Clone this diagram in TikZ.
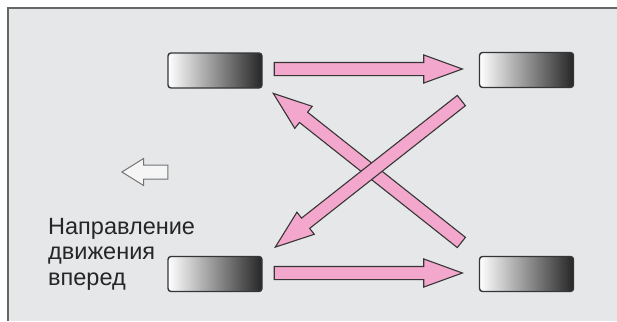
\documentclass[tikz,border=0pt]{standalone}
\usepackage{fontspec}
\setmainfont{Liberation Sans}
\usetikzlibrary{positioning,calc,shapes.arrows}

\definecolor{panelgray}{HTML}{E6E7E8}
\definecolor{arrowpink}{HTML}{F4A7CC}
\definecolor{edgegray}{HTML}{363636}

% fat outlined arrow from one coordinate to another
\newcommand{\fatarrow}[3]{%
  \path let \p1=($(#3)-(#2)$), \n1={atan2(\y1,\x1)}, \n2={veclen(\x1,\y1)} in
    node[swaparrow, minimum height=\n2, rotate=\n1, anchor=tail] (#1) at (#2) {};}

\begin{document}
\begin{tikzpicture}[
			x=1pt,y=-1pt,
			wheel/.style={
				draw=edgegray,
				line width=1.4pt,
				rounded corners=3pt,
				minimum width=94pt,
				minimum height=35pt,
				inner sep=0pt,
				left color=white,
				right color=black!85
			},
			swaparrow/.style={
				single arrow,
				draw=edgegray,
				fill=arrowpink,
				line width=1.1pt,
				inner xsep=0pt,
				inner ysep=6pt,
				single arrow head extend=7.5pt,
				single arrow tip angle=40
			},
			hollowarrow/.style={
				single arrow,
				draw=black!55,
				fill=white!60!panelgray,
				line width=1pt,
				inner xsep=0pt,
				inner ysep=6.5pt,
				single arrow head extend=6.5pt,
				single arrow tip angle=64
			},
			note/.style={
				anchor=north west,
				align=left,
				inner sep=0pt,
				text=black!85,
				font=\fontsize{23.5}{25.5}\selectfont
			}
			]
			
			\useasboundingbox (0,0) rectangle (617,321);
			\fill[panelgray] (8,8) rectangle (617,321);
			\draw[black!60,line width=1.2pt] (8,321) -- (8,8) -- (617,8);
			
			\node[wheel] (tl) at (215,70.5) {};
			\node[wheel] (tr) at (526.5,70) {};
			\node[wheel] (bl) at (215,274) {};
			\node[wheel] (br) at (526.5,274) {};
			
			\coordinate (topS) at ($(tl.east)+(11,-1.5)$);
			\coordinate (topE) at ($(tr.west)+(-17,-1)$);
			\coordinate (botS) at ($(bl.east)+(11,-1)$);
			\coordinate (botE) at ($(br.west)+(-17,-1)$);
			\coordinate (upS) at ($(br.north west)+(-17,-13)$);
			\coordinate (upE) at ($(tl.south east)+(11,5)$);
			\coordinate (downS) at ($(tr.south west)+(-17,12)$);
			\coordinate (downE) at ($(bl.north east)+(13,-9)$);
			
			\fatarrow{toparrow}{topS}{topE}
			\fatarrow{botarrow}{botS}{botE}
			\fatarrow{uparrow}{upS}{upE}
			\fatarrow{downarrow}{downS}{downE}
			
			\node[hollowarrow,minimum height=46pt,rotate=180,anchor=tip] (dir) at (121,172) {};
			\node[note] (label) at (48,218) {Направление\\движения\\вперед};
			
		\end{tikzpicture}
\end{document}
